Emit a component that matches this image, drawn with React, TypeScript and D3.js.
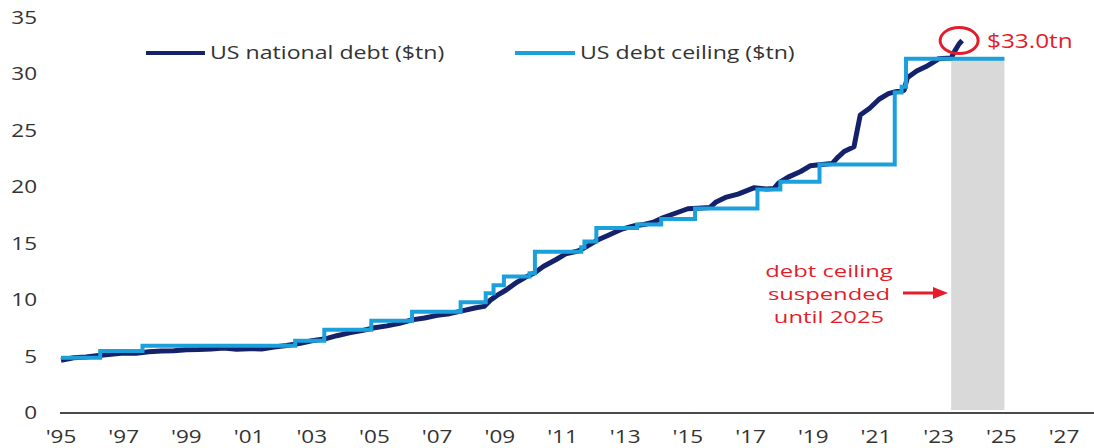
import * as d3 from 'd3';

// US national debt ($tn)
const debtYears = [
  1995.0, 1995.4, 1995.8, 1996.2, 1996.6, 1997.0, 1997.4, 1997.8, 1998.2, 1998.6,
  1999.0, 1999.4, 1999.8, 2000.2, 2000.6, 2001.0, 2001.4, 2001.8, 2002.2, 2002.6,
  2003.0, 2003.4, 2003.8, 2004.2, 2004.6, 2005.0, 2005.4, 2005.8, 2006.2, 2006.6,
  2007.0, 2007.4, 2007.8, 2008.2, 2008.5, 2008.7, 2008.9, 2009.2, 2009.5, 2009.8,
  2010.1, 2010.4, 2010.8, 2011.1, 2011.5, 2011.8, 2012.1, 2012.5, 2012.9, 2013.3,
  2013.6, 2013.9, 2014.2, 2014.6, 2015.0, 2015.3, 2015.7, 2015.9, 2016.2, 2016.6,
  2017.1, 2017.5, 2017.75, 2017.9, 2018.2, 2018.6, 2018.9, 2019.2, 2019.6, 2019.8,
  2020.0, 2020.3, 2020.4, 2020.5, 2020.8, 2021.1, 2021.4, 2021.6, 2021.9, 2022.0,
  2022.3, 2022.6, 2022.9, 2023.0, 2023.4, 2023.5, 2023.65, 2023.75,
];
const debtValues = [
  4.68, 4.9, 4.97, 5.1, 5.2, 5.32, 5.3, 5.42, 5.5, 5.52,
  5.6, 5.62, 5.68, 5.75, 5.65, 5.7, 5.67, 5.85, 5.98, 6.15,
  6.4, 6.55, 6.85, 7.1, 7.3, 7.55, 7.72, 7.95, 8.25, 8.42,
  8.65, 8.8, 9.05, 9.3, 9.45, 10.0, 10.4, 10.9, 11.5, 12.0,
  12.4, 13.0, 13.6, 14.1, 14.35, 14.8, 15.3, 15.8, 16.3, 16.6,
  16.7, 16.9, 17.3, 17.7, 18.1, 18.15, 18.2, 18.7, 19.1, 19.4,
  19.95, 19.85, 19.9, 20.4, 20.9, 21.4, 21.9, 22.0, 22.1, 22.7,
  23.2, 23.6, 25.0, 26.4, 27.0, 27.8, 28.3, 28.45, 28.6, 29.7,
  30.3, 30.7, 31.2, 31.4, 31.45, 32.0, 32.7, 33.0,
];

// US debt ceiling ($tn), step changes
const ceilingYears = [
  1995.0, 1996.25, 1997.6, 2002.47, 2003.4, 2004.9, 2006.2, 2007.75, 2008.55, 2008.8,
  2009.13, 2009.95, 2010.12, 2011.6, 2011.7, 2012.08, 2013.38, 2014.15, 2015.23, 2017.22,
  2017.95, 2019.2, 2021.6, 2021.82, 2021.96, 2025.1,
];
const ceilingValues = [
  4.9, 5.5, 5.95, 6.4, 7.384, 8.184, 8.965, 9.815, 10.615, 11.315,
  12.104, 12.394, 14.294, 14.694, 15.194, 16.394, 16.699, 17.2, 18.113, 19.809,
  20.5, 22.03, 28.4, 28.9, 31.381, 31.381,
];

// suspension period
const suspendedFrom = 2023.4;
const suspendedTo = 2025.1;

const yTicks = [0, 5, 10, 15, 20, 25, 30, 35];
const xTicks = [1995, 1997, 1999, 2001, 2003, 2005, 2007, 2009, 2011, 2013, 2015, 2017, 2019, 2021, 2023, 2025, 2027];
const xTickLabels = ["'95", "'97", "'99", "'01", "'03", "'05", "'07", "'09", "'11", "'13", "'15", "'17", "'19", "'21", "'23", "'25", "'27"];

const annotationLines = ['debt ceiling', 'suspended', 'until 2025'];
const calloutLabel = '$33.0tn';

const W = 1094;
const H = 448;
const NAVY = '#14226b';
const LIGHT = '#1ca0dc';
const RED = '#e31e2a';
const FONT = '"Open Sans", sans-serif';
const SX = 1.25; // the reference text is set wide

function WideText(props: {
  x: number;
  y: number;
  anchor?: string;
  size: number;
  fill: string;
  sx?: number;
  children: React.ReactNode;
}) {
  const { x, y, anchor = 'start', size, fill, sx = SX, children } = props;
  return (
    <text
      transform={`translate(${x},${y}) scale(${sx},1)`}
      textAnchor={anchor}
      fontFamily={FONT}
      fontSize={size}
      fill={fill}
    >
      {children}
    </text>
  );
}

export default function App() {
  const x = d3.scaleLinear().domain([1995, 2027]).range([61, 1064]);
  const y = d3.scaleLinear().domain([0, 35]).range([413, 18]);

  const debtLine = d3
    .line<number>()
    .x((_, i) => x(debtYears[i]))
    .y((d) => y(d))
    .curve(d3.curveLinear);

  const ceilingLine = d3
    .line<number>()
    .x((_, i) => x(ceilingYears[i]))
    .y((d) => y(d))
    .curve(d3.curveStepAfter);

  const lastDebt = debtValues[debtValues.length - 1];
  const lastYear = debtYears[debtYears.length - 1];
  const cx = x(lastYear) - 3;
  const cy = y(lastDebt);
  const ceilTop = y(ceilingValues[ceilingValues.length - 1]);

  const arrowY = 293;

  return (
    <svg width={W} height={H} style={{ position: 'absolute', left: 0, top: 0, background: '#fff' }}>
      {/* suspension band */}
      <rect
        x={x(suspendedFrom)}
        y={ceilTop}
        width={x(suspendedTo) - x(suspendedFrom)}
        height={410 - ceilTop}
        fill='#d9d9d9'
      />

      {/* y axis labels */}
      {yTicks.map((t) => (
        <WideText key={t} x={37} y={y(t) + 6} anchor='end' size={18} fill='#333'>
          {t}
        </WideText>
      ))}

      {/* x axis */}
      <line x1={60} x2={W} y1={y(0)} y2={y(0)} stroke='#4a4a4a' strokeWidth={2} />
      {xTicks.map((t, i) => (
        <WideText key={t} x={x(t)} y={443} anchor='middle' size={18} fill='#333'>
          {xTickLabels[i]}
        </WideText>
      ))}

      {/* series */}
      <path d={debtLine(debtValues) ?? ''} fill='none' stroke={NAVY} strokeWidth={5} strokeLinejoin='round' />
      <path d={ceilingLine(ceilingValues) ?? ''} fill='none' stroke={LIGHT} strokeWidth={4} />

      {/* legend */}
      <line x1={146} x2={205} y1={53} y2={53} stroke={NAVY} strokeWidth={4} />
      <WideText x={210} y={59} size={18.5} fill='#333'>
        US national debt ($tn)
      </WideText>
      <line x1={515} x2={575} y1={53} y2={53} stroke={LIGHT} strokeWidth={4} />
      <WideText x={580} y={59} size={18.5} fill='#333'>
        US debt ceiling ($tn)
      </WideText>

      {/* callout */}
      <ellipse cx={cx} cy={cy} rx={19} ry={13} fill='none' stroke={RED} strokeWidth={3} />
      <WideText x={987} y={48} size={19.5} fill={RED}>
        {calloutLabel}
      </WideText>

      {/* annotation */}
      {annotationLines.map((s, i) => (
        <WideText key={s} x={829} y={277 + i * 23} anchor='middle' size={17} sx={1.4} fill={RED}>
          {s}
        </WideText>
      ))}
      <line x1={903} x2={935} y1={arrowY} y2={arrowY} stroke={RED} strokeWidth={3} />
      <path d={`M${948},${arrowY} L${933},${arrowY - 6} L${933},${arrowY + 6} Z`} fill={RED} />
    </svg>
  );
}
